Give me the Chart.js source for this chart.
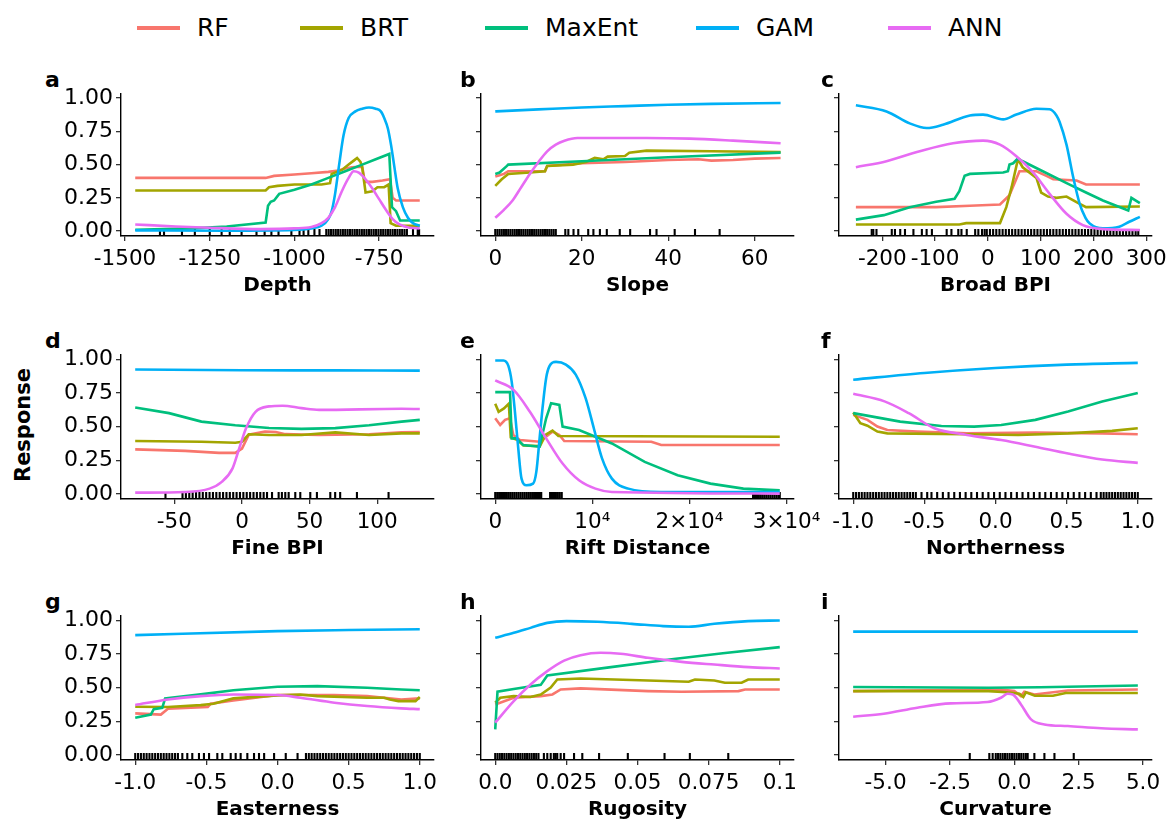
<!DOCTYPE html>
<html lang="en">
<head>
<meta charset="UTF-8">
<title>Response curves</title>
<style>
  body { margin: 0; background: #fff; font-family: "DejaVu Sans", sans-serif; }
  #wrap { position: relative; width: 1174px; height: 824px; overflow: hidden; background: #fff; }
  canvas { position: absolute; }
  .letter { position: absolute; font-weight: bold; font-size: 22px; line-height: 22px; color: #000; }
  .key { position: absolute; height: 4px; width: 43px; }
  .keytext { position: absolute; font-size: 25px; line-height: 25px; color: #000; }
  #resp { position: absolute; left: 23px; top: 425px; transform: translate(-50%, -50%) rotate(-90deg);
          font-weight: bold; font-size: 21px; white-space: nowrap; color: #000; }
</style>
<script src="https://cdn.jsdelivr.net/npm/chart.js"></script>
</head>
<body>
<div id="wrap">
  <div id="resp">Response</div>
</div>
<script>
const seriesNames = ['RF', 'BRT', 'MaxEnt', 'GAM', 'ANN'];
const seriesColors = ['#F8766D', '#A3A500', '#00BF7D', '#00B0F6', '#E76BF3'];

// a - Depth
const depthRF = [[-1470,0.40],[-1085,0.40],[-1060,0.415],[-1000,0.425],[-950,0.435],[-900,0.445],[-870,0.455],[-850,0.47],[-830,0.48],[-800,0.485],[-792,0.37],[-770,0.37],[-740,0.38],[-718,0.39],[-710,0.25],[-700,0.23],[-630,0.23]];
const depthBRT = [[-1470,0.305],[-1085,0.305],[-1075,0.33],[-1050,0.34],[-1000,0.35],[-920,0.35],[-895,0.36],[-890,0.43],[-860,0.46],[-840,0.50],[-825,0.53],[-815,0.55],[-805,0.52],[-800,0.48],[-790,0.29],[-770,0.30],[-755,0.33],[-735,0.33],[-722,0.35],[-716,0.06],[-700,0.04],[-630,0.04]];
const depthMaxEnt = [[-1470,0.01],[-1300,0.02],[-1200,0.035],[-1085,0.065],[-1078,0.19],[-1070,0.22],[-1060,0.23],[-1045,0.28],[-1000,0.31],[-950,0.35],[-900,0.40],[-850,0.45],[-800,0.50],[-760,0.54],[-720,0.58],[-712,0.18],[-700,0.15],[-688,0.08],[-630,0.08]];
const depthGAM = [[-1470,0.005],[-1200,0.003],[-1000,0.008],[-950,0.02],[-920,0.04],[-900,0.09],[-890,0.15],[-880,0.28],[-868,0.50],[-855,0.72],[-840,0.85],[-820,0.90],[-800,0.92],[-780,0.93],[-760,0.92],[-745,0.90],[-735,0.85],[-724,0.77],[-715,0.65],[-706,0.50],[-695,0.32],[-680,0.18],[-665,0.10],[-650,0.06],[-630,0.04]];
const depthANN = [[-1470,0.05],[-1350,0.035],[-1250,0.025],[-1100,0.015],[-1000,0.02],[-950,0.03],[-920,0.06],[-900,0.10],[-880,0.18],[-860,0.30],[-840,0.40],[-825,0.45],[-810,0.44],[-790,0.39],[-770,0.32],[-750,0.24],[-730,0.16],[-710,0.09],[-690,0.05],[-660,0.025],[-630,0.02]];
const depthRug = [-1397,-1385,-1332,-1294,-1250,-1215,-1191,-1156,-1112,-1088,-1068,-1047,-1009,-985,-973,-959,-941,-926,-906,-899,-892,-885,-878,-871,-864,-857,-850,-843,-836,-829,-822,-815,-808,-801,-794,-787,-780,-773,-766,-759,-752,-745,-738,-731,-724,-717,-710,-703,-696,-689,-682,-675,-668,-650,-636,-632];
const depthTicks = [-1500, -1250, -1000, -750];
const depthTickLabels = ['-1500', '-1250', '-1000', '-750'];

// b - Slope
const slopeRF = [[0,0.41],[1,0.42],[2,0.43],[3,0.45],[11.5,0.45],[12,0.49],[20,0.51],[30,0.52],[40,0.535],[47,0.54],[50,0.53],[55,0.535],[60,0.545],[66,0.55]];
const slopeBRT = [[0,0.34],[1.5,0.39],[3,0.43],[8,0.44],[11.5,0.45],[12,0.49],[18,0.50],[21,0.52],[23,0.55],[25,0.54],[26,0.56],[30,0.565],[31,0.59],[35,0.605],[50,0.60],[66,0.595]];
const slopeMaxEnt = [[0,0.43],[1,0.44],[2.7,0.49],[3,0.50],[20,0.525],[40,0.555],[66,0.59]];
const slopeGAM = [[0,0.90],[10,0.915],[20,0.93],[30,0.94],[40,0.95],[50,0.957],[66,0.963]];
const slopeANN = [[0,0.10],[2,0.16],[4,0.23],[6,0.33],[8,0.43],[10,0.52],[12,0.60],[14,0.65],[16,0.68],[19,0.70],[25,0.70],[35,0.70],[45,0.695],[55,0.68],[66,0.66]];
const slopeRug = [0,0.5,1,1.5,2,2.5,3,3.5,4,4.5,5,5.5,6,6.5,7,7.5,8,8.5,9,9.5,10,10.5,11,11.5,12,12.5,13,13.5,14,16.2,16.9,18.1,19.2,21.5,22.7,24.2,25.8,28.8,31.2,35.8,37.3,41.5,46.2,51.9];
const slopeTicks = [0, 20, 40, 60];
const slopeTickLabels = ['0', '20', '40', '60'];

// c - Broad BPI
const broadRF = [[-250,0.18],[-98,0.18],[-34,0.19],[23,0.20],[41,0.27],[60,0.45],[92,0.45],[111,0.415],[124,0.39],[168,0.38],[186,0.35],[243,0.35],[288,0.35]];
const broadBRT = [[-250,0.05],[-54,0.05],[-41,0.06],[23,0.06],[35,0.18],[45,0.33],[57,0.54],[66,0.48],[92,0.40],[101,0.29],[114,0.26],[130,0.25],[149,0.26],[168,0.217],[186,0.18],[288,0.185]];
const broadMaxEnt = [[-250,0.086],[-197,0.12],[-148,0.18],[-98,0.22],[-63,0.243],[-54,0.30],[-44,0.416],[-34,0.43],[29,0.44],[38,0.45],[41,0.50],[48,0.51],[57,0.546],[66,0.525],[104,0.45],[155,0.35],[186,0.29],[218,0.23],[266,0.155],[272,0.25],[288,0.21]];
const broadGAM = [[-250,0.946],[-192,0.90],[-148,0.81],[-116,0.775],[-85,0.80],[-34,0.87],[-9,0.876],[29,0.84],[54,0.876],[92,0.92],[117,0.916],[130,0.87],[136,0.82],[149,0.65],[162,0.40],[174,0.205],[185,0.10],[193,0.057],[218,0.02],[249,0.033],[268,0.07],[288,0.107]];
const broadANN = [[-250,0.48],[-192,0.526],[-129,0.60],[-66,0.66],[-9,0.68],[23,0.65],[54,0.563],[86,0.44],[117,0.28],[149,0.13],[180,0.045],[218,0.015],[288,0.008]];
const broadRug = [-220,-217,-211,-182,-176,-166,-157,-141,-125,-116,-106,-78,-69,-56,-50,-40,-24,-18,-11,-6,-2,4,10,16,22,28,34,40,46,52,58,64,70,76,82,88,94,100,106,112,118,124,130,136,142,148,154,160,166,172,178,184,190,196,202,208,214,220,226,232,238,244,250,256,262,268,274,280,285];
const broadTicks = [-200, -100, 0, 100, 200, 300];
const broadTickLabels = ['-200', '-100', '0', '100', '200', '300'];

// d - Fine BPI
const fineRF = [[-79,0.331],[-42,0.32],[-17,0.305],[-5,0.305],[0,0.337],[5,0.44],[17,0.464],[25,0.46],[32,0.444],[57,0.438],[94,0.443],[118,0.457],[131.5,0.46]];
const fineBRT = [[-79,0.393],[-30,0.388],[-5,0.38],[0,0.388],[5,0.443],[20,0.438],[44,0.438],[69,0.457],[94,0.438],[118,0.45],[131.5,0.45]];
const fineMaxEnt = [[-79,0.642],[-54,0.60],[-30,0.537],[-5,0.51],[20,0.49],[44,0.483],[69,0.489],[94,0.51],[118,0.537],[131.5,0.55]];
const fineGAM = [[-79,0.923],[0,0.918],[60,0.917],[100,0.916],[131.5,0.915]];
const fineANN = [[-79,0.010],[-42,0.015],[-24,0.04],[-15,0.09],[-7,0.19],[-2,0.34],[3,0.488],[10,0.61],[20,0.65],[30,0.655],[44,0.637],[57,0.624],[118,0.632],[131.5,0.63]];
const fineRug = [-56.6,-44,-41.5,-39,-36.5,-34,-31.5,-29,-26.5,-24,-21.5,-19,-16.5,-14,-11.5,-9,-6.5,-4,-1.5,1,3.5,6,8.5,11,13.5,16,18.5,22.2,27.1,29.5,32,34.5,39.4,43.1,50.5,55.4,65.3,68.9,72.6,85,108.4];
const fineTicks = [-50, 0, 50, 100];
const fineTickLabels = ['-50', '0', '50', '100'];

// e - Rift Distance
const riftRF = [[0,0.562],[508,0.512],[1015,0.55],[1523,0.562],[1861,0.438],[2538,0.40],[4569,0.388],[5922,0.463],[6599,0.438],[7107,0.393],[16074,0.388],[17089,0.363],[29300,0.363]];
const riftBRT = [[0,0.67],[350,0.61],[900,0.635],[1400,0.67],[1600,0.42],[2300,0.40],[2900,0.36],[4600,0.355],[5200,0.44],[5900,0.47],[6500,0.43],[29300,0.425]];
const riftMaxEnt = [[0,0.756],[1523,0.756],[1692,0.413],[2200,0.413],[2876,0.363],[4569,0.351],[5245,0.562],[5753,0.674],[6599,0.661],[6937,0.50],[8629,0.475],[12013,0.375],[15397,0.238],[18782,0.139],[22166,0.077],[25550,0.040],[29300,0.027]];
const riftGAM = [[0,0.99],[846,0.99],[1354,0.95],[1692,0.835],[2030,0.61],[2369,0.34],[2707,0.114],[3214,0.065],[3891,0.077],[4230,0.164],[4569,0.413],[4907,0.662],[5245,0.861],[5584,0.948],[6261,0.98],[7276,0.96],[8291,0.886],[9306,0.711],[10152,0.488],[10998,0.264],[12013,0.114],[13705,0.04],[17089,0.015],[29300,0.015]];
const riftANN = [[0,0.843],[1861,0.774],[3553,0.612],[5245,0.413],[6937,0.226],[8629,0.102],[10321,0.04],[12013,0.015],[29300,0.003]];
const riftRug = [0,200,400,600,800,1000,1200,1400,1600,1800,2000,2200,2400,2600,2800,3000,3200,3400,3600,3800,4000,4200,4400,4600,4738,5650,5850,6050,6250,6450,6650,6850,26550,26750,26950,27150,27350,27550,27750,27950,28150,28350,28550,28750,28950,29150,29300];
const riftTicks = [0, 10000, 20000, 30000];
const riftTickLabels = ['0', '10⁴', '2×10⁴', '3×10⁴'];

// f - Northerness
const northRF = [[-1,0.587],[-0.9,0.55],[-0.83,0.50],[-0.76,0.475],[-0.55,0.463],[-0.2,0.45],[0.28,0.455],[0.75,0.45],[1,0.443]];
const northBRT = [[-1,0.605],[-0.95,0.525],[-0.9,0.507],[-0.83,0.463],[-0.76,0.45],[-0.2,0.443],[0.16,0.438],[0.51,0.45],[0.82,0.468],[1,0.488]];
const northMaxEnt = [[-1,0.60],[-0.67,0.537],[-0.38,0.505],[-0.15,0.50],[0.04,0.512],[0.28,0.55],[0.51,0.612],[0.75,0.687],[1,0.75]];
const northGAM = [[-1,0.848],[-0.5,0.898],[0,0.935],[0.5,0.96],[1,0.973]];
const northANN = [[-1,0.743],[-0.78,0.687],[-0.61,0.60],[-0.43,0.488],[-0.2,0.438],[0.04,0.40],[0.28,0.35],[0.51,0.30],[0.75,0.256],[1,0.231]];
const northRug = [-1,-0.98,-0.96,-0.94,-0.92,-0.9,-0.88,-0.86,-0.84,-0.82,-0.8,-0.78,-0.76,-0.74,-0.72,-0.7,-0.68,-0.66,-0.64,-0.62,-0.6,-0.58,-0.56,-0.52,-0.48,-0.45,-0.41,-0.37,-0.33,-0.29,-0.25,-0.21,-0.17,-0.13,-0.09,-0.05,-0.01,0.03,0.07,0.11,0.15,0.19,0.23,0.27,0.31,0.35,0.39,0.43,0.47,0.51,0.55,0.59,0.63,0.67,0.71,0.74,0.76,0.78,0.8,0.82,0.84,0.86,0.88,0.9,0.92,0.94,0.96,0.98,1];
const northTicks = [-1, -0.5, 0, 0.5, 1];
const northTickLabels = ['-1.0', '-0.5', '0.0', '0.5', '1.0'];

// g - Easterness
const eastRF = [[-1,0.309],[-0.82,0.30],[-0.77,0.343],[-0.49,0.356],[-0.47,0.38],[-0.31,0.405],[0,0.445],[0.4,0.445],[0.63,0.437],[0.87,0.412],[1,0.42]];
const eastBRT = [[-1,0.358],[-0.77,0.356],[-0.54,0.37],[-0.45,0.38],[-0.31,0.42],[0,0.442],[0.16,0.449],[0.28,0.437],[0.63,0.425],[0.75,0.425],[0.79,0.412],[0.85,0.40],[0.97,0.40],[1,0.43]];
const eastMaxEnt = [[-1,0.277],[-0.89,0.30],[-0.87,0.34],[-0.81,0.35],[-0.79,0.42],[-0.54,0.45],[-0.31,0.48],[0,0.506],[0.28,0.511],[0.63,0.499],[0.87,0.486],[1,0.48]];
const eastGAM = [[-1,0.889],[0,0.919],[0.5,0.927],[1,0.933]];
const eastANN = [[-1,0.371],[-0.77,0.412],[-0.54,0.437],[-0.31,0.449],[0,0.445],[0.16,0.425],[0.4,0.388],[0.63,0.363],[0.87,0.346],[1,0.34]];
const eastRug = [-1,-0.98,-0.96,-0.94,-0.92,-0.9,-0.88,-0.86,-0.84,-0.82,-0.8,-0.78,-0.76,-0.74,-0.72,-0.7,-0.669,-0.634,-0.599,-0.552,-0.517,-0.481,-0.423,-0.388,-0.329,-0.294,-0.259,-0.212,-0.165,-0.13,-0.094,-0.024,0.058,0.141,0.2,0.22,0.24,0.26,0.28,0.3,0.32,0.34,0.36,0.38,0.4,0.42,0.44,0.46,0.48,0.5,0.52,0.54,0.56,0.58,0.6,0.62,0.64,0.66,0.68,0.7,0.72,0.74,0.76,0.78,0.8,0.82,0.84,0.86,0.88,0.9,0.92,0.94,0.96,0.98,1];
const eastTicks = [-1, -0.5, 0, 0.5, 1];
const eastTickLabels = ['-1.0', '-0.5', '0.0', '0.5', '1.0'];

// h - Rugosity
const rugosityRF = [[0,0.375],[0.0065,0.425],[0.016,0.437],[0.0201,0.449],[0.023,0.486],[0.030,0.494],[0.0537,0.474],[0.0655,0.469],[0.0855,0.474],[0.0878,0.486],[0.1,0.486]];
const rugosityBRT = [[0,0.388],[0.0018,0.425],[0.0065,0.437],[0.0124,0.43],[0.016,0.449],[0.0195,0.50],[0.0218,0.56],[0.03,0.568],[0.0537,0.553],[0.068,0.543],[0.0702,0.56],[0.077,0.553],[0.0807,0.536],[0.0866,0.536],[0.0889,0.56],[0.1,0.56]];
const rugosityMaxEnt = [[0,0.19],[0.0008,0.47],[0.0065,0.49],[0.016,0.52],[0.0183,0.59],[0.04,0.65],[0.062,0.71],[0.08,0.755],[0.1,0.80]];
const rugosityGAM = [[0,0.869],[0.0065,0.906],[0.0124,0.943],[0.0183,0.98],[0.025,0.993],[0.036,0.988],[0.048,0.973],[0.059,0.956],[0.068,0.951],[0.077,0.973],[0.0889,0.993],[0.1,0.998]];
const rugosityANN = [[0,0.24],[0.0065,0.40],[0.0124,0.523],[0.0183,0.622],[0.0242,0.70],[0.030,0.74],[0.037,0.758],[0.044,0.751],[0.0537,0.721],[0.0655,0.691],[0.077,0.671],[0.0891,0.652],[0.1,0.642]];
const rugosityRug = [0,0.0008,0.0016,0.0024,0.0032,0.004,0.0048,0.0056,0.0064,0.0072,0.008,0.0088,0.0096,0.0104,0.0112,0.012,0.0128,0.0136,0.0144,0.0152,0.0171,0.0183,0.0195,0.0206,0.0212,0.0218,0.023,0.0242,0.0277,0.0306,0.0365,0.0466,0.0595,0.0684,0.0819];
const rugosityTicks = [0, 0.025, 0.05, 0.075, 0.1];
const rugosityTickLabels = ['0.0', '0.025', '0.05', '0.075', '0.1'];

// i - Curvature
const curvRF = [[-6.26,0.474],[-0.52,0.486],[0,0.474],[0.26,0.437],[0.39,0.47],[0.78,0.449],[2.08,0.479],[4.8,0.486]];
const curvBRT = [[-6.26,0.474],[-1,0.474],[-0.3,0.465],[0.2,0.455],[0.35,0.43],[0.45,0.465],[0.8,0.44],[1.5,0.44],[2,0.46],[4.8,0.46]];
const curvMaxEnt = [[-6.26,0.504],[-1,0.499],[1,0.503],[4.8,0.516]];
const curvGAM = [[-6.26,0.915],[4.8,0.915]];
const curvANN = [[-6.26,0.284],[-5.07,0.306],[-3.77,0.351],[-2.47,0.383],[-1.04,0.393],[-0.52,0.425],[-0.26,0.454],[-0.06,0.449],[0.26,0.375],[0.65,0.264],[1.17,0.227],[2.08,0.215],[3.38,0.198],[4.8,0.19]];
const curvRug = [-1.73,-0.97,-0.84,-0.72,-0.63,-0.54,-0.45,-0.36,-0.27,-0.18,-0.09,0,0.09,0.18,0.27,0.36,0.45,0.52,0.78,1.17,1.56,2.31];
const curvTicks = [-5, -2.5, 0, 2.5, 5];
const curvTickLabels = ['-5.0', '-2.5', '0.0', '2.5', '5.0'];

const yTicks = [0, 0.25, 0.5, 0.75, 1];

const panels = [
  { letter: 'a', title: 'Depth', xMin: -1512, xMax: -588, ticks: depthTicks, labels: depthTickLabels, lines: [depthRF, depthBRT, depthMaxEnt, depthGAM, depthANN], rug: depthRug },
  { letter: 'b', title: 'Slope', xMin: -3.3, xMax: 69.1, ticks: slopeTicks, labels: slopeTickLabels, lines: [slopeRF, slopeBRT, slopeMaxEnt, slopeGAM, slopeANN], rug: slopeRug },
  { letter: 'c', title: 'Broad BPI', xMin: -282, xMax: 311, ticks: broadTicks, labels: broadTickLabels, lines: [broadRF, broadBRT, broadMaxEnt, broadGAM, broadANN], rug: broadRug },
  { letter: 'd', title: 'Fine BPI', xMin: -89.5, xMax: 142, ticks: fineTicks, labels: fineTickLabels, lines: [fineRF, fineBRT, fineMaxEnt, fineGAM, fineANN], rug: fineRug },
  { letter: 'e', title: 'Rift Distance', xMin: -1465, xMax: 30765, ticks: riftTicks, labels: riftTickLabels, lines: [riftRF, riftBRT, riftMaxEnt, riftGAM, riftANN], rug: riftRug },
  { letter: 'f', title: 'Northerness', xMin: -1.1, xMax: 1.1, ticks: northTicks, labels: northTickLabels, lines: [northRF, northBRT, northMaxEnt, northGAM, northANN], rug: northRug },
  { letter: 'g', title: 'Easterness', xMin: -1.1, xMax: 1.1, ticks: eastTicks, labels: eastTickLabels, lines: [eastRF, eastBRT, eastMaxEnt, eastGAM, eastANN], rug: eastRug },
  { letter: 'h', title: 'Rugosity', xMin: -0.005, xMax: 0.105, ticks: rugosityTicks, labels: rugosityTickLabels, lines: [rugosityRF, rugosityBRT, rugosityMaxEnt, rugosityGAM, rugosityANN], rug: rugosityRug },
  { letter: 'i', title: 'Curvature', xMin: -6.81, xMax: 5.35, ticks: curvTicks, labels: curvTickLabels, lines: [curvRF, curvBRT, curvMaxEnt, curvGAM, curvANN], rug: curvRug }
];

// layout
const FONT = '"DejaVu Sans", sans-serif';
const colLeft = [121, 481, 839];
const letterLeft = [45, 460, 821];
const rowTop = [91, 352, 613];
const rowH = [145, 147, 147];
const plotW = 313;
const yAxisW = 72, xAxisH = 62, padTop = 14, padRight = 34;

Chart.defaults.font.family = FONT;
Chart.defaults.color = '#000';

const wrap = document.getElementById('wrap');

// legend
const keyLeft = [137, 300, 485, 696, 888];
seriesNames.forEach((name, i) => {
  const line = document.createElement('div');
  line.className = 'key';
  line.style.left = keyLeft[i] + 'px';
  line.style.top = '26px';
  line.style.background = seriesColors[i];
  wrap.appendChild(line);
  const txt = document.createElement('div');
  txt.className = 'keytext';
  txt.style.left = (keyLeft[i] + 60) + 'px';
  txt.style.top = '15px';
  txt.textContent = name;
  wrap.appendChild(txt);
});

panels.forEach((p, k) => {
  const col = k % 3, row = Math.floor(k / 3);

  const lt = document.createElement('div');
  lt.className = 'letter';
  lt.textContent = p.letter;
  lt.style.left = letterLeft[col] + 'px';
  lt.style.top = (rowTop[row] - 22) + 'px';
  wrap.appendChild(lt);

  const cv = document.createElement('canvas');
  cv.width = yAxisW + plotW + padRight;
  cv.height = padTop + rowH[row] + xAxisH;
  cv.style.left = (colLeft[col] - yAxisW) + 'px';
  cv.style.top = (rowTop[row] - padTop) + 'px';
  wrap.appendChild(cv);

  const smooth = [false, false, false, true, true];
  const datasets = p.lines.map((pts, i) => ({
    label: seriesNames[i],
    data: pts.map(d => ({ x: d[0], y: d[1] })),
    borderColor: seriesColors[i],
    borderWidth: 2.6,
    pointRadius: 0,
    fill: false,
    tension: 0,
    cubicInterpolationMode: smooth[i] ? 'monotone' : 'default'
  })).reverse();

  // rug marks along the bottom edge
  datasets.push({
    label: 'rug',
    data: p.rug.map(x => ({ x: x, y: -0.012 })),
    showLine: false,
    pointStyle: 'line',
    rotation: 90,
    pointRadius: 3.6,
    pointBorderColor: '#000',
    borderColor: '#000',
    pointBorderWidth: 2.1
  });

  new Chart(cv, {
    type: 'line',
    data: { datasets },
    options: {
      responsive: false,
      animation: false,
      devicePixelRatio: 1,
      layout: { padding: { top: padTop, right: padRight, left: 0, bottom: 0 } },
      plugins: { legend: { display: false }, tooltip: { enabled: false } },
      scales: {
        x: {
          type: 'linear',
          min: p.xMin,
          max: p.xMax,
          afterBuildTicks: ax => { ax.ticks = p.ticks.map(v => ({ value: v })); },
          afterFit: ax => { ax.height = xAxisH; },
          ticks: {
            autoSkip: false, maxRotation: 0, padding: 6, color: '#000',
            font: { size: 21.5 },
            callback: (v, i) => p.labels[i]
          },
          grid: { drawOnChartArea: false, drawTicks: true, tickLength: 5, color: '#333', lineWidth: 1.3 },
          border: { display: true, color: '#000', width: 1.4 },
          title: { display: true, text: p.title, color: '#000', font: { size: 20, weight: 'bold' }, padding: { top: 0, bottom: 0 } }
        },
        y: {
          min: -0.037,
          max: 1.037,
          afterBuildTicks: ax => { ax.ticks = yTicks.map(v => ({ value: v })); },
          afterFit: ax => { ax.width = yAxisW; },
          ticks: {
            padding: 3, color: '#000',
            font: { size: 22 },
            callback: v => (col === 0 ? v.toFixed(2) : '')
          },
          grid: { drawOnChartArea: false, drawTicks: true, tickLength: 5, color: '#333', lineWidth: 1.3 },
          border: { display: true, color: '#000', width: 1.4 }
        }
      }
    }
  });
});
</script>
</body>
</html>
